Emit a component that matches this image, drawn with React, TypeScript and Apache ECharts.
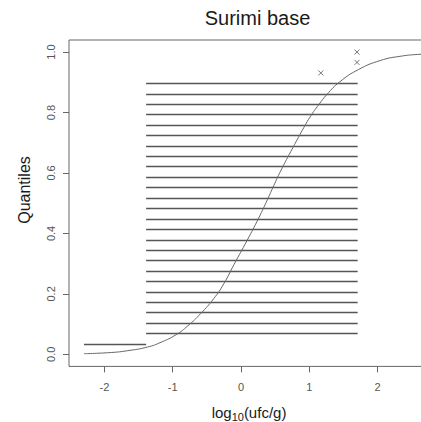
import React, { useEffect, useRef } from "react";
import * as echarts from "echarts";

const xTicks = [-2, -1, 0, 1, 2];
const yTicks = [0, 0.2, 0.4, 0.6, 0.8, 1.0];

// interval-censored observations drawn as horizontal segments
const intervalLevels = [
  0.069, 0.103, 0.138, 0.172, 0.207, 0.241, 0.276, 0.31, 0.345, 0.379, 0.414,
  0.448, 0.483, 0.517, 0.552, 0.586, 0.621, 0.655, 0.69, 0.724, 0.759, 0.793,
  0.828, 0.862, 0.897,
];
const intervalLow = -1.39;
const intervalHigh = 1.71;

// left-censored observation
const censoredLevel = 0.0345;
const censoredLow = -2.3;
const censoredHigh = -1.39;

// exact observations (x marks)
const pointX = [1.17, 1.7, 1.7];
const pointY = [0.931, 0.966, 1.0];

// fitted distribution curve
const curveX = [
  -2.3, -1.9, -1.66, -1.37, -1.17, -0.95, -0.78, -0.59, -0.4, -0.25, -0.1, 0.09,
  0.26, 0.39, 0.48, 0.58, 0.73, 0.84, 0.92, 1.02, 1.14, 1.26, 1.45, 1.72, 2.04,
  2.33, 2.64, 3.0,
];
const curveY = [
  0.002, 0.006, 0.012, 0.024, 0.04, 0.065, 0.094, 0.135, 0.184, 0.234, 0.298,
  0.377, 0.451, 0.513, 0.558, 0.606, 0.671, 0.717, 0.75, 0.788, 0.826, 0.86,
  0.902, 0.942, 0.972, 0.986, 0.993, 0.997,
];

const FONT = "'Liberation Sans', Arial, sans-serif";

export default function App() {
  const ref = useRef<HTMLDivElement>(null);

  useEffect(() => {
    if (!ref.current) return;
    const chart = echarts.init(ref.current, null, { renderer: "svg" });
    const lineColor = "#555";

    const segments = intervalLevels.map((y) => ({
      coords: [
        [intervalLow, y],
        [intervalHigh, y],
      ],
    }));
    segments.push({
      coords: [
        [censoredLow, censoredLevel],
        [censoredHigh, censoredLevel],
      ],
    });

    chart.setOption({
      animation: false,
      backgroundColor: "#fff",
      grid: {
        left: 69,
        top: 40,
        right: 24.3,
        bottom: 55.6,
        show: true,
        borderColor: "#666",
        borderWidth: 1,
      },
      xAxis: {
        type: "value",
        min: -2.52,
        max: 3.0,
        axisLine: { show: false, onZero: false },
        splitLine: { show: false },
        axisTick: {
          show: true,
          inside: false,
          length: 6,
          customValues: xTicks,
          lineStyle: { color: "#666" },
        },
        axisLabel: {
          customValues: xTicks,
          margin: 15,
          color: "#555",
          fontSize: 11,
          fontFamily: FONT,
          formatter: (v: number) => String(v),
        },
      },
      yAxis: {
        type: "value",
        min: -0.04,
        max: 1.04,
        axisLine: { show: false, onZero: false },
        splitLine: { show: false },
        axisTick: {
          show: true,
          inside: false,
          length: 6,
          customValues: yTicks,
          lineStyle: { color: "#666" },
        },
        axisLabel: {
          customValues: yTicks,
          rotate: 90,
          margin: 13,
          color: "#555",
          fontSize: 11,
          fontFamily: FONT,
          formatter: (v: number) => v.toFixed(1),
        },
      },
      graphic: [
        {
          type: "text",
          x: 257.5,
          y: 18,
          style: {
            text: "Surimi base",
            font: `20px ${FONT}`,
            fill: "#1a1a1a",
            textAlign: "center",
            textVerticalAlign: "middle",
          },
        },
        {
          type: "text",
          x: 24,
          y: 190,
          rotation: Math.PI / 2,
          style: {
            text: "Quantiles",
            font: `16px ${FONT}`,
            fill: "#1a1a1a",
            textAlign: "center",
            textVerticalAlign: "middle",
          },
        },
        {
          type: "text",
          x: 249,
          y: 412,
          style: {
            text: "log{sub|10}(ufc/g)",
            font: `15px ${FONT}`,
            fill: "#1a1a1a",
            textAlign: "center",
            textVerticalAlign: "middle",
            rich: {
              sub: {
                fontSize: 11,
                fontFamily: FONT,
                fill: "#1a1a1a",
                padding: [10, 0, 0, 0],
              },
            },
          },
        },
      ],
      series: [
        {
          type: "lines",
          coordinateSystem: "cartesian2d",
          polyline: false,
          silent: true,
          lineStyle: { color: lineColor, width: 1.3, opacity: 1 },
          data: segments,
        },
        {
          type: "line",
          data: curveX.map((x, i) => [x, curveY[i]]),
          smooth: 0.5,
          showSymbol: false,
          symbol: "none",
          lineStyle: { color: "#666", width: 1 },
          silent: true,
        },
        {
          type: "scatter",
          data: pointX.map((x, i) => [x, pointY[i]]),
          symbol: "path://M0,0L10,10M10,0L0,10",
          symbolSize: 5,
          itemStyle: { color: "none", borderColor: "#555", borderWidth: 1 },
          silent: true,
        },
      ],
    });
    return () => chart.dispose();
  }, []);

  return (
    <div
      style={{
        position: "fixed",
        left: 0,
        top: 0,
        width: 421,
        height: 422,
        overflow: "hidden",
        background: "#fff",
      }}
    >
      <div ref={ref} style={{ width: 470, height: 422 }} />
    </div>
  );
}
